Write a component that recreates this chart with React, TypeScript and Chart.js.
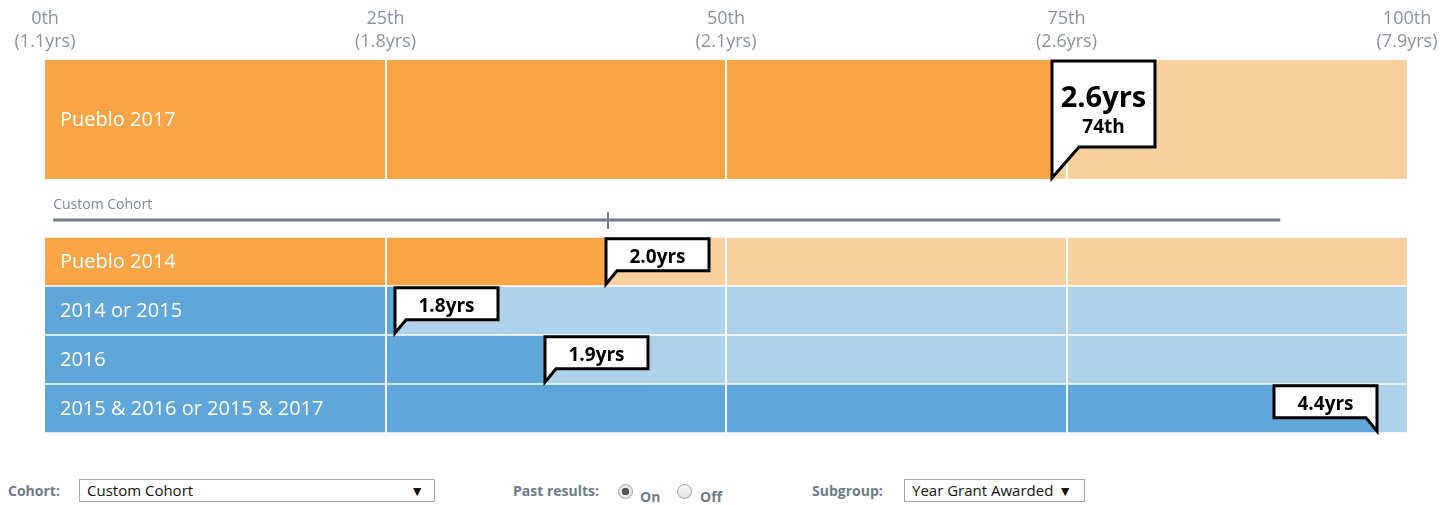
import React, { useEffect, useRef } from "react";
import { Chart, registerables } from "chart.js";
Chart.register(...registerables);

// ---- data ----
const tickPercentiles = [0, 25, 50, 75, 100];
const tickNames = ["0th", "25th", "50th", "75th", "100th"];
const tickYears = ["1.1yrs", "1.8yrs", "2.1yrs", "2.6yrs", "7.9yrs"];

const mainCategories = ["Pueblo 2017"];
const mainPercentiles = [73.9];
const mainYears = ["2.6yrs"];
const mainRanks = ["74th"];

const cohortCategories = ["Pueblo 2014", "2014 or 2015", "2016", "2015 & 2016 or 2015 & 2017"];
const cohortPercentiles = [41.2, 25.7, 36.7, 97.8];
const cohortYears = ["2.0yrs", "1.8yrs", "1.9yrs", "4.4yrs"];
const cohortGroups = ["pueblo", "year", "year", "year"];

const customCohortLabel = "Custom Cohort";
const customCohortRange = [0.6, 90.7];
const customCohortMark = 41.3;

// ---- styles ----
const FONT = "'Open Sans', 'Noto Sans', sans-serif";
const COLORS: Record<string, { dark: string; light: string }> = {
  pueblo: { dark: "#F7A546", light: "#F9D0A0" },
  year: { dark: "#60A6D9", light: "#AED2EA" },
};
const TICK_COLOR = "#8A939D";
const LINE_COLOR = "#717D8A";

function drawCallout(
  ctx: CanvasRenderingContext2D,
  tipX: number,
  tipY: number,
  boxTop: number,
  boxW: number,
  boxH: number,
  tailW: number,
  flip: boolean
) {
  const boxBottom = boxTop + boxH;
  ctx.save();
  ctx.beginPath();
  if (!flip) {
    ctx.moveTo(tipX, boxTop);
    ctx.lineTo(tipX + boxW, boxTop);
    ctx.lineTo(tipX + boxW, boxBottom);
    ctx.lineTo(tipX + tailW, boxBottom);
    ctx.lineTo(tipX, tipY);
  } else {
    ctx.moveTo(tipX - boxW, boxTop);
    ctx.lineTo(tipX, boxTop);
    ctx.lineTo(tipX, tipY);
    ctx.lineTo(tipX - tailW, boxBottom);
    ctx.lineTo(tipX - boxW, boxBottom);
  }
  ctx.closePath();
  ctx.fillStyle = "#ffffff";
  ctx.fill();
  ctx.lineWidth = 3;
  ctx.lineJoin = "miter";
  ctx.strokeStyle = "#000000";
  ctx.stroke();
  ctx.restore();
  return flip ? tipX - boxW / 2 : tipX + boxW / 2;
}

function gridPlugin(id: string) {
  return {
    id,
    afterDatasetsDraw(chart: any) {
      const { ctx, chartArea, scales } = chart;
      ctx.save();
      ctx.strokeStyle = "#ffffff";
      ctx.lineWidth = 2;
      [25, 50, 75].forEach((v) => {
        const x = Math.round(scales.x.getPixelForValue(v));
        ctx.beginPath();
        ctx.moveTo(x, chartArea.top);
        ctx.lineTo(x, chartArea.bottom);
        ctx.stroke();
      });
      ctx.restore();
    },
  };
}

function labelPlugin(id: string, labels: string[]) {
  return {
    id,
    afterDatasetsDraw(chart: any) {
      const { ctx, chartArea } = chart;
      const meta = chart.getDatasetMeta(0);
      ctx.save();
      ctx.fillStyle = "#ffffff";
      ctx.font = `20px ${FONT}`;
      ctx.textBaseline = "middle";
      ctx.textAlign = "left";
      labels.forEach((l, i) => {
        const bar = meta.data[i];
        ctx.fillText(l, chartArea.left + 15, bar.y + 1);
      });
      ctx.restore();
    },
  };
}

export default function App() {
  const topRef = useRef<HTMLCanvasElement>(null);
  const botRef = useRef<HTMLCanvasElement>(null);

  useEffect(() => {
    const commonX = {
      min: 0,
      max: 100,
    };

    const topChart = new Chart(topRef.current!, {
      type: "bar",
      data: {
        labels: mainCategories,
        datasets: [
          {
            data: mainPercentiles,
            backgroundColor: COLORS.pueblo.dark,
            barPercentage: 1,
            categoryPercentage: 1,
          },
          {
            data: mainPercentiles.map((v) => 100 - v),
            backgroundColor: COLORS.pueblo.light,
            barPercentage: 1,
            categoryPercentage: 1,
          },
        ],
      },
      options: {
        indexAxis: "y",
        animation: false,
        responsive: false,
        maintainAspectRatio: false,
        layout: { padding: { left: 45, right: 48, top: 0, bottom: 3 } },
        plugins: { legend: { display: false }, tooltip: { enabled: false } },
        scales: {
          x: {
            ...commonX,
            stacked: true,
            position: "top",
            grid: { display: false, drawTicks: false },
            border: { display: false },
            afterBuildTicks: (scale: any) => {
              scale.ticks = tickPercentiles.map((v) => ({ value: v }));
            },
            ticks: {
              autoSkip: false,
              maxRotation: 0,
              color: TICK_COLOR,
              padding: 7,
              font: { family: FONT, size: 18, lineHeight: 1.28 },
              callback: (value: any) => {
                const i = tickPercentiles.indexOf(Number(value));
                return [tickNames[i], `(${tickYears[i]})`];
              },
            },
          },
          y: { stacked: true, display: false },
        },
      },
      plugins: [
        gridPlugin("grid1"),
        labelPlugin("labels1", mainCategories),
        {
          id: "callout1",
          afterDatasetsDraw(chart: any) {
            const { ctx, chartArea, scales } = chart;
            mainPercentiles.forEach((v, i) => {
              const x = Math.round(scales.x.getPixelForValue(v));
              const top = chartArea.top + 1;
              const bottom = chartArea.bottom - 1;
              const boxW = 103;
              const flip = x + boxW > chartArea.right;
              const cx = drawCallout(ctx, x, bottom, top, boxW, 86, 27, flip);
              ctx.save();
              ctx.fillStyle = "#000";
              ctx.textAlign = "center";
              ctx.textBaseline = "middle";
              ctx.font = `bold 29px ${FONT}`;
              ctx.fillText(mainYears[i], cx, top + 38);
              ctx.font = `bold 19px ${FONT}`;
              ctx.fillText(mainRanks[i], cx, top + 67);
              ctx.restore();
            });
          },
        },
      ],
    } as any);

    const botChart = new Chart(botRef.current!, {
      type: "bar",
      data: {
        labels: cohortCategories,
        datasets: [
          {
            data: cohortPercentiles,
            backgroundColor: cohortGroups.map((g) => COLORS[g].dark),
            barPercentage: 0.965,
            categoryPercentage: 1,
          },
          {
            data: cohortPercentiles.map((v) => 100 - v),
            backgroundColor: cohortGroups.map((g) => COLORS[g].light),
            barPercentage: 0.965,
            categoryPercentage: 1,
          },
        ],
      },
      options: {
        indexAxis: "y",
        animation: false,
        responsive: false,
        maintainAspectRatio: false,
        layout: { padding: { left: 45, right: 48, top: 55, bottom: 7 } },
        plugins: { legend: { display: false }, tooltip: { enabled: false } },
        scales: {
          x: { ...commonX, stacked: true, display: false },
          y: { stacked: true, display: false },
        },
      },
      plugins: [
        gridPlugin("grid2"),
        labelPlugin("labels2", cohortCategories),
        {
          id: "cohortLine",
          afterDraw(chart: any) {
            const { ctx, chartArea, scales } = chart;
            const y = chartArea.top - 17;
            ctx.save();
            ctx.fillStyle = "#7D8894";
            ctx.font = `14px ${FONT}`;
            ctx.textAlign = "left";
            ctx.textBaseline = "middle";
            const x0 = scales.x.getPixelForValue(customCohortRange[0]);
            const x1 = scales.x.getPixelForValue(customCohortRange[1]);
            ctx.fillText(customCohortLabel, x0, chartArea.top - 32);
            ctx.strokeStyle = LINE_COLOR;
            ctx.lineWidth = 3;
            ctx.beginPath();
            ctx.moveTo(x0, y);
            ctx.lineTo(x1, y);
            ctx.stroke();
            const xm = Math.round(scales.x.getPixelForValue(customCohortMark));
            ctx.lineWidth = 2;
            ctx.beginPath();
            ctx.moveTo(xm, y - 8);
            ctx.lineTo(xm, y + 9);
            ctx.stroke();
            ctx.restore();
          },
        },
        {
          id: "callout2",
          afterDatasetsDraw(chart: any) {
            const { ctx, chartArea, scales } = chart;
            const meta = chart.getDatasetMeta(0);
            cohortPercentiles.forEach((v, i) => {
              const bar = meta.data[i];
              const half = bar.height / 2;
              const top = bar.y - half + 1;
              const bottom = bar.y + half - 1;
              const x = Math.round(scales.x.getPixelForValue(v));
              const boxW = 103;
              const flip = x + boxW > chartArea.right;
              const cx = drawCallout(ctx, x, bottom, top, boxW, 32, 11, flip);
              ctx.save();
              ctx.fillStyle = "#000";
              ctx.textAlign = "center";
              ctx.textBaseline = "middle";
              ctx.font = `bold 19px ${FONT}`;
              ctx.fillText(cohortYears[i], cx, top + 18.5);
              ctx.restore();
            });
          },
        },
      ],
    } as any);

    return () => {
      topChart.destroy();
      botChart.destroy();
    };
  }, []);

  const labelStyle: React.CSSProperties = {
    position: "absolute",
    fontFamily: FONT,
    fontWeight: 700,
    fontSize: 14,
    color: "#6E7B89",
    whiteSpace: "nowrap",
  };
  const selectStyle: React.CSSProperties = {
    position: "absolute",
    boxSizing: "border-box",
    height: 23,
    border: "1px solid #A8A8A8",
    background: "#fff",
    fontFamily: FONT,
    fontSize: 15,
    color: "#111",
    lineHeight: "21px",
    paddingLeft: 7,
    whiteSpace: "nowrap",
  };
  const radio = (checked: boolean, left: number): React.CSSProperties => ({
    position: "absolute",
    left,
    top: 484,
    width: 15,
    height: 15,
    boxSizing: "border-box",
    borderRadius: "50%",
    border: "1px solid #A0A0A0",
    background: checked
      ? "radial-gradient(circle, #555 0 3.5px, #E8E8E8 4px)"
      : "linear-gradient(#fafafa, #e2e2e2)",
  });

  return (
    <div style={{ position: "absolute", left: 0, top: 0, width: 1455, height: 505, background: "#fff" }}>
      <canvas
        ref={topRef}
        width={1455}
        height={182}
        style={{ position: "absolute", left: 0, top: 0, width: 1455, height: 182 }}
      />
      <canvas
        ref={botRef}
        width={1455}
        height={258}
        style={{ position: "absolute", left: 0, top: 182, width: 1455, height: 258 }}
      />
      <div style={{ ...labelStyle, left: 8, top: 481 }}>Cohort:</div>
      <div style={{ ...selectStyle, left: 79, top: 479, width: 356 }}>
        Custom Cohort
        <span style={{ position: "absolute", right: 10, top: 0, fontSize: 14 }}>▼</span>
      </div>
      <div style={{ ...labelStyle, left: 513, top: 481 }}>Past results:</div>
      <div style={radio(true, 618)} />
      <div style={{ ...labelStyle, left: 640, top: 487 }}>On</div>
      <div style={radio(false, 677)} />
      <div style={{ ...labelStyle, left: 700, top: 487 }}>Off</div>
      <div style={{ ...labelStyle, left: 812, top: 481 }}>Subgroup:</div>
      <div style={{ ...selectStyle, left: 904, top: 479, width: 181 }}>
        Year Grant Awarded
        <span style={{ position: "absolute", right: 12, top: 0, fontSize: 14 }}>▼</span>
      </div>
    </div>
  );
}
